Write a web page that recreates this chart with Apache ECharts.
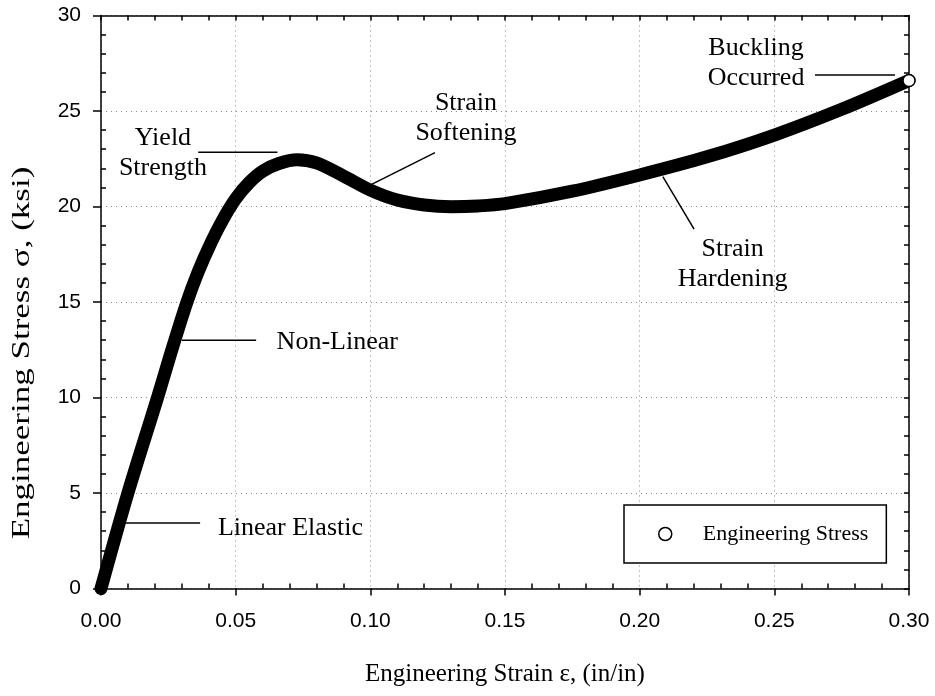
<!DOCTYPE html>
<html>
<head>
<meta charset="utf-8">
<title>Engineering Stress-Strain</title>
<script src="https://cdn.jsdelivr.net/npm/echarts@6/dist/echarts.min.js"></script>
<style>
  html, body { margin: 0; padding: 0; background: #fff; }
  #chart { width: 935px; height: 696px; }
</style>
</head>
<body>
<div id="chart"></div>
<script>
// Engineering strain (in/in) and engineering stress (ksi) along the test curve
const strain = [0, 0.010, 0.021, 0.0262, 0.0318, 0.036, 0.0405, 0.045, 0.050, 0.055,
  0.060, 0.066, 0.0728, 0.080, 0.090, 0.100, 0.110, 0.120, 0.130, 0.140,
  0.150, 0.175, 0.200, 0.225, 0.250, 0.275, 0.300];
const stress = [0, 5.0, 10.0, 12.45, 14.95, 16.55, 18.0, 19.25, 20.4, 21.25,
  21.85, 22.25, 22.45, 22.28, 21.6, 20.86, 20.34, 20.08, 19.99, 20.03,
  20.15, 20.8, 21.65, 22.6, 23.74, 25.09, 26.6];

// Axis ranges and tick labels
const xTickValues = [0, 0.05, 0.10, 0.15, 0.20, 0.25, 0.30];
const xTickLabels = ['0.00', '0.05', '0.10', '0.15', '0.20', '0.25', '0.30'];
const yTickValues = [0, 5, 10, 15, 20, 25, 30];
const yTickLabels = ['0', '5', '10', '15', '20', '25', '30'];

const seriesName = 'Engineering Stress';
const xTitle = 'Engineering Strain \u03b5, (in/in)';
const yTitle = 'Engineering Stress \u03c3, (ksi)';

// Callouts: label anchor and leader line, both in (strain, stress)
const notes = [
  { text: 'Linear Elastic', at: [0.0434, 3.14], align: 'left', from: [0.0089, 3.43], to: [0.0368, 3.43] },
  { text: 'Non-Linear', at: [0.0652, 12.9], align: 'left', from: [0.0300, 13.0], to: [0.0576, 13.0] },
  { text: 'Yield\nStrength', at: [0.0230, 22.77], align: 'center', from: [0.0361, 22.84], to: [0.0655, 22.84] },
  { text: 'Strain\nSoftening', at: [0.1355, 24.64], align: 'center', from: [0.1001, 21.13], to: [0.1240, 22.82] },
  { text: 'Strain\nHardening', at: [0.2345, 17.0], align: 'center', from: [0.2086, 21.56], to: [0.2202, 18.81] },
  { text: 'Buckling\nOccurred', at: [0.2432, 27.48], align: 'center', from: [0.2651, 26.88], to: [0.2948, 26.88] }
];

const serif = '"Liberation Serif", "Times New Roman", serif';
const sans = '"Liberation Sans", Arial, sans-serif';

const points = strain.map((s, i) => [s, stress[i]]);
const last = points[points.length - 1];

const xMin = xTickValues[0], xMax = xTickValues[xTickValues.length - 1];
const yMin = yTickValues[0], yMax = yTickValues[yTickValues.length - 1];
const xStep = xTickValues[1] - xTickValues[0];
const yStep = yTickValues[1] - yTickValues[0];

const frameLine = { show: true, onZero: false, lineStyle: { color: '#000', width: 1.5 } };
const gridDots = { show: true, lineStyle: { color: '#8a8a8a', width: 1, type: [1, 4] } };

function xLabel(v) {
  const i = xTickValues.findIndex(t => Math.abs(t - v) < 1e-9);
  return i >= 0 ? xTickLabels[i] : '';
}
function yLabel(v) {
  const i = yTickValues.findIndex(t => Math.abs(t - v) < 1e-9);
  return i >= 0 ? yTickLabels[i] : '';
}

const chart = echarts.init(document.getElementById('chart'), null, { renderer: 'canvas' });

chart.setOption({
  animation: false,
  backgroundColor: '#fff',
  grid: { left: 101, right: 26, top: 15.5, bottom: 107.5, containLabel: false },
  legend: {
    left: 624, top: 505,
    padding: [18, 18, 18, 34],
    backgroundColor: '#fff',
    borderColor: '#000', borderWidth: 1.5,
    itemWidth: 13, itemHeight: 13,
    selectedMode: false,
    textStyle: { fontFamily: serif, fontSize: 22, color: '#000', padding: [0, 0, 0, 26] },
    data: [{ name: seriesName, icon: 'circle', itemStyle: { color: '#fff', borderColor: '#000', borderWidth: 1.5 } }]
  },
  xAxis: [
    {
      type: 'value', position: 'bottom', min: xMin, max: xMax, interval: xStep,
      name: xTitle, nameLocation: 'middle', nameGap: 73,
      nameTextStyle: { fontFamily: serif, fontSize: 25, color: '#000' },
      axisLine: frameLine,
      axisTick: { show: true, inside: false, length: 7, lineStyle: { color: '#000', width: 1.5 } },
      axisLabel: { formatter: xLabel, fontFamily: sans, fontSize: 21, color: '#000', margin: 22 },
      splitLine: gridDots
    },
    {
      type: 'value', position: 'bottom', min: xMin, max: xMax, interval: xStep,
      axisLine: { show: false },
      axisTick: { show: false, inside: true },
      minorTick: { show: true, splitNumber: 5, length: 5, lineStyle: { color: '#000', width: 1.5 } },
      axisLabel: { show: false }, splitLine: { show: false }
    },
    {
      type: 'value', position: 'top', min: xMin, max: xMax, interval: xStep,
      axisLine: frameLine,
      axisTick: { show: true, inside: true, length: 5, lineStyle: { color: '#000', width: 1.5 } },
      minorTick: { show: true, splitNumber: 5, length: 5, lineStyle: { color: '#000', width: 1.5 } },
      axisLabel: { show: false }, splitLine: { show: false }
    }
  ],
  yAxis: [
    {
      type: 'value', position: 'left', min: yMin, max: yMax, interval: yStep,
      axisLine: frameLine,
      axisTick: { show: true, inside: false, length: 8, lineStyle: { color: '#000', width: 1.5 } },
      axisLabel: { formatter: yLabel, fontFamily: sans, fontSize: 21, color: '#000', margin: 20 },
      splitLine: gridDots
    },
    {
      type: 'value', position: 'left', min: yMin, max: yMax, interval: yStep,
      axisLine: { show: false },
      axisTick: { show: false, inside: true },
      minorTick: { show: true, splitNumber: 5, length: 5, lineStyle: { color: '#000', width: 1.5 } },
      axisLabel: { show: false }, splitLine: { show: false }
    },
    {
      type: 'value', position: 'right', min: yMin, max: yMax, interval: yStep,
      axisLine: frameLine,
      axisTick: { show: true, inside: true, length: 5, lineStyle: { color: '#000', width: 1.5 } },
      minorTick: { show: true, splitNumber: 5, length: 5, lineStyle: { color: '#000', width: 1.5 } },
      axisLabel: { show: false }, splitLine: { show: false }
    }
  ],
  series: [
    {
      name: seriesName, type: 'line', xAxisIndex: 0, yAxisIndex: 0,
      data: points,
      smooth: 0.3,
      showSymbol: false, clip: false,
      itemStyle: { color: '#fff', borderColor: '#000', borderWidth: 1.5 },
      lineStyle: { color: '#000', width: 13, cap: 'round', join: 'round' },
      z: 3
    },
    {
      name: seriesName, type: 'scatter', xAxisIndex: 0, yAxisIndex: 0,
      data: [last], symbol: 'circle', symbolSize: 12, clip: false,
      itemStyle: { color: '#fff', borderColor: '#000', borderWidth: 1.5, opacity: 1 },
      z: 4
    }
  ]
});

// Callout labels and leader lines placed through the grid's coordinate system
const toPx = p => chart.convertToPixel({ gridIndex: 0 }, p);
const graphics = [];
notes.forEach(n => {
  const a = toPx(n.from), b = toPx(n.to), t = toPx(n.at);
  graphics.push({
    type: 'line', silent: true, z: 10,
    shape: { x1: a[0], y1: a[1], x2: b[0], y2: b[1] },
    style: { stroke: '#000', lineWidth: 1.5 }
  });
  graphics.push({
    type: 'text', silent: true, z: 10, x: t[0], y: t[1],
    style: {
      text: n.text, fill: '#000', font: '26px ' + serif,
      align: n.align, verticalAlign: 'middle', lineHeight: 30
    }
  });
});

// Vertical axis title, drawn wide along its reading direction
graphics.push({
  type: 'text', silent: true, z: 10,
  x: 22.5, y: 353, rotation: Math.PI / 2, scaleX: 1.4,
  style: { text: yTitle, fill: '#000', font: '25px ' + serif, align: 'center', verticalAlign: 'middle' }
});
chart.setOption({ graphic: graphics });
</script>
</body>
</html>
